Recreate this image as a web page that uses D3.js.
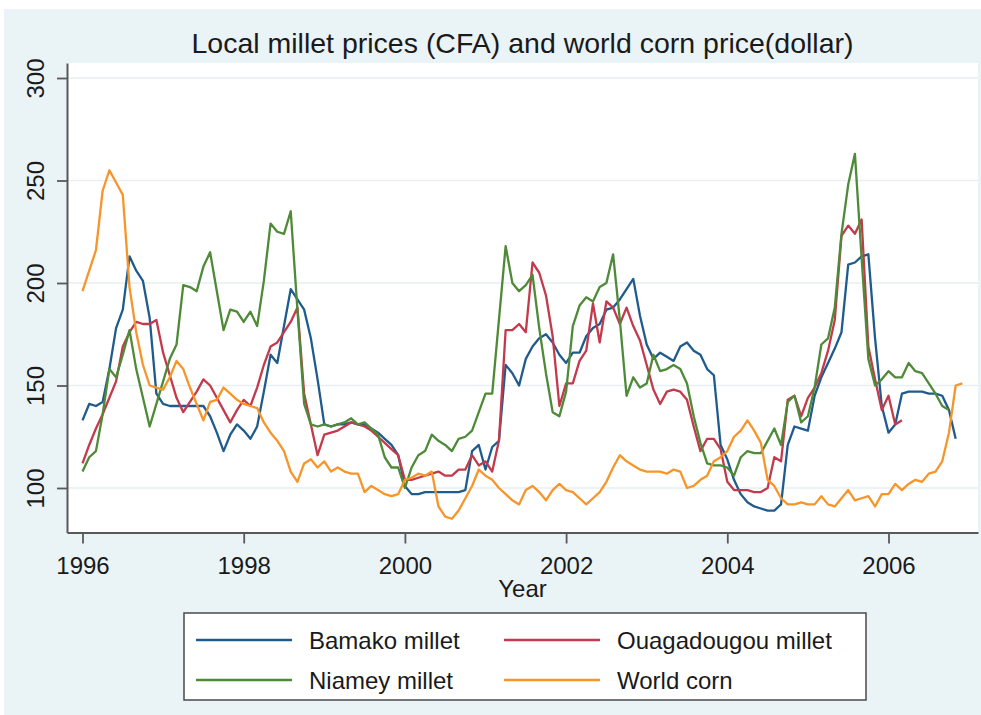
<!DOCTYPE html>
<html>
<head>
<meta charset="utf-8">
<script src="https://cdn.jsdelivr.net/npm/d3@7"></script>
<style>
  html, body { margin: 0; padding: 0; background: #ffffff; }
  svg { display: block; }
  text { font-family: "Liberation Sans", Arial, Helvetica, sans-serif; fill: #1a1a1a; }
</style>
</head>
<body>
<svg id="chart" width="981" height="715"></svg>
<script>
// Monthly series, first value = January 1996
const startYear = 1996;

const bamako = [
  133, 141, 140, 142, 158, 178, 187, 213, 206, 201, 183, 146,
  141, 140, 140, 140, 140, 140, 140, 135, 127, 118, 126, 131,
  128, 124, 130, 147, 165, 161, 179, 197, 192, 187, 173, 153,
  131, 130, 131, 131, 132, 131, 131, 129, 127, 124, 121, 116,
  101,  97,  97,  98,  98,  98,  98,  98,  98,  99, 118, 121,
  109, 120, 123, 160, 156, 150, 163, 169, 173, 175, 171, 165,
  161, 166, 166, 174, 178, 180, 187, 188, 192, 197, 202, 184,
  170, 163, 166, 164, 162, 169, 171, 167, 165, 158, 155, 121,
  114, 104,  97,  93,  91,  90,  89,  89,  92, 121, 130, 129,
  128, 145, 154, 161, 168, 176, 209, 210, 213, 214, 173, 140,
  127, 131, 146, 147, 147, 147, 146, 146, 145, 138, 124
];

const ouagadougou = [
  112, 121, 129, 136, 144, 152, 169, 176, 181, 180, 180, 182,
  166, 155, 144, 137, 142, 147, 153, 150, 144, 138, 132, 138,
  143, 140, 149, 160, 169, 171, 176, 181, 188, 146, 131, 116,
  126, 127, 128, 130, 132, 131, 130, 128, 125, 122, 119, 116,
  104, 104, 105, 106, 107, 108, 106, 106, 109, 109, 116, 111,
  113, 108, 123, 177, 177, 180, 176, 210, 205, 194, 174, 140,
  151, 151, 162, 167, 190, 171, 191, 188, 180, 188, 179, 172,
  160, 148, 141, 147, 148, 147, 143, 130, 118, 124, 124, 119,
  103,  99,  99,  99,  98,  98, 100, 115, 113, 143, 145, 135,
  144, 149, 156, 167, 182, 223, 228, 224, 231, 169, 153, 138,
  145, 131, 133
];

const niamey = [
  108, 115, 118, 136, 158, 154, 165, 177, 158, 144, 130, 141,
  152, 163, 170, 199, 198, 196, 208, 215, 196, 177, 187, 186,
  181, 186, 179, 201, 229, 225, 224, 235, 187, 141, 131, 130,
  131, 130, 131, 132, 134, 131, 132, 129, 126, 115, 110, 110,
  100, 110, 116, 118, 126, 123, 121, 118, 124, 125, 128, 137,
  146, 146, 182, 218, 200, 196, 199, 204, 178, 156, 137, 135,
  147, 179, 189, 193, 191, 198, 200, 214, 182, 145, 154, 149,
  151, 165, 157, 158, 160, 158, 151, 135, 122, 112, 111, 111,
  110, 106, 115, 118, 117, 117, 123, 129, 121, 142, 145, 132,
  135, 149, 170, 173, 188, 224, 248, 263, 212, 163, 150, 153,
  157, 154, 154, 161, 157, 156, 151, 146, 140, 138
];

const worldCorn = [
  196, 206, 216, 245, 255, 249, 243, 198, 176, 160, 150, 149,
  148, 154, 162, 158, 149, 141, 133, 142, 143, 149, 146, 143,
  141, 140, 139, 132, 127, 123, 118, 108, 103, 112, 114, 110,
  113, 108, 110, 108, 107, 107,  98, 101,  99,  97,  96,  97,
  104, 105, 107, 106, 108,  91,  86,  85,  89,  95, 101, 109,
  106, 104, 100,  97,  94,  92,  99, 101,  98,  94,  99, 102,
   99,  98,  95,  92,  95,  98, 103, 110, 116, 113, 111, 109,
  108, 108, 108, 107, 109, 108, 100, 101, 104, 106, 113, 115,
  118, 125, 128, 133, 128, 122, 104, 101,  95,  92,  92,  93,
   92,  92,  96,  92,  91,  95,  99,  94,  95,  96,  91,  97,
   97, 102,  99, 102, 104, 103, 107, 108, 113, 127, 150, 151
];

const xTicks = [1996, 1998, 2000, 2002, 2004, 2006];
const yTicks = [100, 150, 200, 250, 300];

const seriesNames  = ["Bamako millet", "Ouagadougou millet", "Niamey millet", "World corn"];
const seriesValues = [bamako, ouagadougou, niamey, worldCorn];
const seriesColors = ["#1f5b8c", "#c23a4c", "#4e8a37", "#f7952a"];

const titleText = "Local millet prices (CFA) and world corn price(dollar)";
const xAxisTitle = "Year";

// ---- layout ----
const W = 981, H = 715;
const plot = { left: 67, right: 978, top: 63, bottom: 532.5 };

const svg = d3.select("#chart");

// graph background
svg.append("rect")
  .attr("x", 4).attr("y", 9)
  .attr("width", W - 4).attr("height", H - 9)
  .attr("fill", "#eaf3f6");

// plot region
svg.append("rect")
  .attr("x", plot.left).attr("y", plot.top)
  .attr("width", plot.right - plot.left).attr("height", plot.bottom - plot.top)
  .attr("fill", "#ffffff");

const x = d3.scaleLinear()
  .domain([1995.8077, 2007.1104])
  .range([plot.left, plot.right]);

const y = d3.scaleLinear()
  .domain([78.29, 307.32])
  .range([plot.bottom, plot.top]);

// horizontal grid
svg.append("g")
  .selectAll("line")
  .data(yTicks)
  .join("line")
  .attr("x1", plot.left).attr("x2", plot.right)
  .attr("y1", d => y(d)).attr("y2", d => y(d))
  .attr("stroke", "#e6eff2")
  .attr("stroke-width", 1.6);

// series lines
const line = d3.line()
  .x((d, i) => x(startYear + i / 12))
  .y(d => y(d));

svg.append("g")
  .selectAll("path")
  .data(seriesValues)
  .join("path")
  .attr("d", d => line(d))
  .attr("fill", "none")
  .attr("stroke", (d, i) => seriesColors[i])
  .attr("stroke-width", 2.3)
  .attr("stroke-linejoin", "round");

// axes
const axisColor = "#595959";
const labelFont = "\"Liberation Sans\", Arial, sans-serif";

const yAxis = svg.append("g")
  .attr("transform", `translate(${plot.left},0)`)
  .call(d3.axisLeft(y).tickValues(yTicks).tickSize(10).tickSizeOuter(0));
yAxis.select(".domain").attr("stroke", axisColor).attr("stroke-width", 2);
yAxis.selectAll(".tick line").attr("stroke", axisColor).attr("stroke-width", 1.8);
yAxis.selectAll(".tick text")
  .attr("x", 0).attr("dy", 0)
  .attr("transform", "translate(-23,0) rotate(-90)")
  .attr("text-anchor", "middle")
  .style("font-size", "24px")
  .style("font-family", labelFont)
  .attr("fill", "#1a1a1a");

const xAxis = svg.append("g")
  .attr("transform", `translate(0,${plot.bottom})`)
  .call(d3.axisBottom(x).tickValues(xTicks).tickFormat(d3.format("d")).tickSize(11).tickSizeOuter(0));
xAxis.select(".domain").attr("stroke", axisColor).attr("stroke-width", 2);
xAxis.selectAll(".tick line").attr("stroke", axisColor).attr("stroke-width", 1.8);
xAxis.selectAll(".tick text")
  .attr("y", 41).attr("dy", 0)
  .style("font-size", "24px")
  .style("font-family", labelFont)
  .attr("fill", "#1a1a1a");

// titles
svg.append("text")
  .attr("x", (plot.left + plot.right) / 2)
  .attr("y", 53)
  .attr("text-anchor", "middle")
  .style("font-size", "28.5px")
  .text(titleText);

svg.append("text")
  .attr("x", (plot.left + plot.right) / 2)
  .attr("y", 597)
  .attr("text-anchor", "middle")
  .style("font-size", "24px")
  .text(xAxisTitle);

// legend
const legend = svg.append("g");
const box = { x: 184, y: 613, w: 682, h: 87 };
legend.append("rect")
  .attr("x", box.x).attr("y", box.y)
  .attr("width", box.w).attr("height", box.h)
  .attr("fill", "#ffffff")
  .attr("stroke", "#4a4a4a")
  .attr("stroke-width", 1.5);

const colX = [box.x + 12, box.x + 320];
const rowY = [box.y + 27, box.y + 67];
const items = legend.selectAll("g.item")
  .data(seriesNames)
  .join("g")
  .attr("class", "item")
  .attr("transform", (d, i) => `translate(${colX[i % 2]},${rowY[Math.floor(i / 2)]})`);

items.append("line")
  .attr("x1", 0).attr("x2", 96)
  .attr("y1", 0).attr("y2", 0)
  .attr("stroke", (d, i) => seriesColors[i])
  .attr("stroke-width", 2.3);

items.append("text")
  .attr("x", 113).attr("y", 9)
  .style("font-size", "24px")
  .text(d => d);
</script>
</body>
</html>
